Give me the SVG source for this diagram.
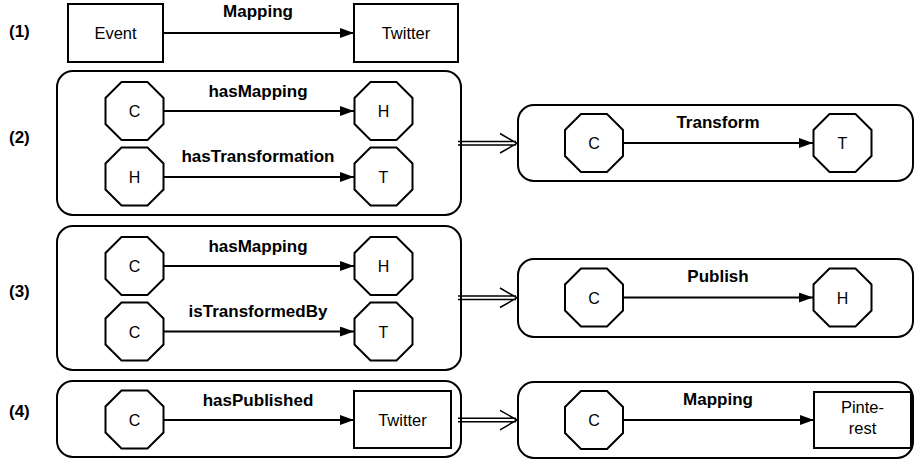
<svg xmlns="http://www.w3.org/2000/svg" xmlns:xlink="http://www.w3.org/1999/xlink" width="914" height="461" viewBox="0 0 914 461">
<style>
.box{fill:#fff;stroke:#000;stroke-width:2}
.cont{fill:#fff;stroke:#000;stroke-width:2}
.t{font-family:"Liberation Sans",Arial,sans-serif;font-size:16.5px;text-anchor:middle;fill:#000}
.o{font-family:"Liberation Sans",Arial,sans-serif;font-size:16px;text-anchor:middle;fill:#000}
.b{font-family:"Liberation Sans",Arial,sans-serif;font-size:17px;font-weight:bold;text-anchor:middle;fill:#000}
.rl{font-family:"Liberation Sans",Arial,sans-serif;font-size:17px;font-weight:bold;fill:#000}
.e{fill:none;stroke:#000;stroke-width:2;marker-end:url(#ah)}
.d{fill:none;stroke:#000;stroke-width:1.5}
</style>
<defs>
<marker id="ah" markerUnits="userSpaceOnUse" markerWidth="15" markerHeight="11" refX="14" refY="5" orient="auto">
<path d="M0,0 L14,5 L0,10 z" fill="#000"/>
</marker>
<polygon id="oct" points="-13,-29 13,-29 29,-13 29,13 13,29 -13,29 -29,13 -29,-13" fill="#fff" stroke="#000" stroke-width="2"/>
</defs>
<rect width="914" height="461" fill="#fff"/>

<g id="row-labels">
<text class="rl" x="9" y="37">(1)</text>
<text class="rl" x="9" y="143">(2)</text>
<text class="rl" x="9" y="297">(3)</text>
<text class="rl" x="9" y="417">(4)</text>
</g>

<g id="containers">
<rect id="cont2a" class="cont" x="57" y="71" width="404" height="144" rx="16"/>
<rect id="cont2b" class="cont" x="518" y="105" width="395" height="76" rx="16"/>
<rect id="cont3a" class="cont" x="57" y="226" width="404" height="144" rx="16"/>
<rect id="cont3b" class="cont" x="518" y="259" width="395" height="78" rx="16"/>
<rect id="cont4a" class="cont" x="57" y="381" width="404" height="76" rx="16"/>
<rect id="cont4b" class="cont" x="518" y="382" width="395" height="76" rx="16"/>
</g>

<g id="connectors">
<path class="e" d="M163,33 H354"/>
<path class="e" d="M164,111 H354"/>
<path class="e" d="M164,177 H354"/>
<path class="e" d="M623,143 H813"/>
<path class="e" d="M164,266 H354"/>
<path class="e" d="M164,331.5 H354"/>
<path class="e" d="M623,297.5 H813"/>
<path class="e" d="M164,420 H354"/>
<path class="e" d="M623,420 H814"/>
<path class="d" d="M458,141.5 H516 M458,145 H516 M500,133.5 L517,143.3 L500,153"/>
<path class="d" d="M458,296 H516 M458,299.5 H516 M500,288 L517,297.8 L500,307.5"/>
<path class="d" d="M458,418.3 H516 M458,421.8 H516 M500,410.3 L517,420 L500,429.8"/>
</g>

<g id="labels">
<text class="b" x="258" y="17">Mapping</text>
<text class="b" x="258" y="97">hasMapping</text>
<text class="b" x="258" y="162">hasTransformation</text>
<text class="b" x="718" y="128">Transform</text>
<text class="b" x="258" y="252">hasMapping</text>
<text class="b" x="258" y="317">isTransformedBy</text>
<text class="b" x="718" y="282">Publish</text>
<text class="b" x="258" y="406">hasPublished</text>
<text class="b" x="718" y="405">Mapping</text>
</g>

<g id="n1-event"><rect class="box" x="68" y="4" width="95" height="58"/><text class="t" x="115.5" y="39">Event</text></g>
<g id="n1-twitter"><rect class="box" x="354" y="4" width="104" height="58"/><text class="t" x="406" y="39">Twitter</text></g>

<g id="n2-c1"><use xlink:href="#oct" x="134.5" y="111"/><text class="o" x="134.5" y="117">C</text></g>
<g id="n2-h1"><use xlink:href="#oct" x="383.5" y="111"/><text class="o" x="383.5" y="117">H</text></g>
<g id="n2-h2"><use xlink:href="#oct" x="134.5" y="176.5"/><text class="o" x="134.5" y="182.5">H</text></g>
<g id="n2-t2"><use xlink:href="#oct" x="383.5" y="176.5"/><text class="o" x="383.5" y="182.5">T</text></g>
<g id="n2-c3"><use xlink:href="#oct" x="594" y="143"/><text class="o" x="594" y="149">C</text></g>
<g id="n2-t3"><use xlink:href="#oct" x="842.5" y="143"/><text class="o" x="842.5" y="149">T</text></g>

<g id="n3-c1"><use xlink:href="#oct" x="134.5" y="266"/><text class="o" x="134.5" y="272">C</text></g>
<g id="n3-h1"><use xlink:href="#oct" x="383.5" y="266"/><text class="o" x="383.5" y="272">H</text></g>
<g id="n3-c2"><use xlink:href="#oct" x="134.5" y="331.5"/><text class="o" x="134.5" y="337.5">C</text></g>
<g id="n3-t2"><use xlink:href="#oct" x="383.5" y="331.5"/><text class="o" x="383.5" y="337.5">T</text></g>
<g id="n3-c3"><use xlink:href="#oct" x="594" y="297.5"/><text class="o" x="594" y="303.5">C</text></g>
<g id="n3-h3"><use xlink:href="#oct" x="842.5" y="297.5"/><text class="o" x="842.5" y="303.5">H</text></g>

<g id="n4-c1"><use xlink:href="#oct" x="134.5" y="419.5"/><text class="o" x="134.5" y="425.5">C</text></g>
<g id="n4-twitter"><rect class="box" x="354" y="391" width="97" height="57"/><text class="t" x="402.5" y="425.5">Twitter</text></g>
<g id="n4-c2"><use xlink:href="#oct" x="594" y="420"/><text class="o" x="594" y="426">C</text></g>
<g id="n4-pinterest"><rect class="box" x="814" y="392" width="97" height="56"/><text class="t" x="862.5" y="413">Pinte-</text><text class="t" x="862.5" y="434">rest</text></g>
</svg>
